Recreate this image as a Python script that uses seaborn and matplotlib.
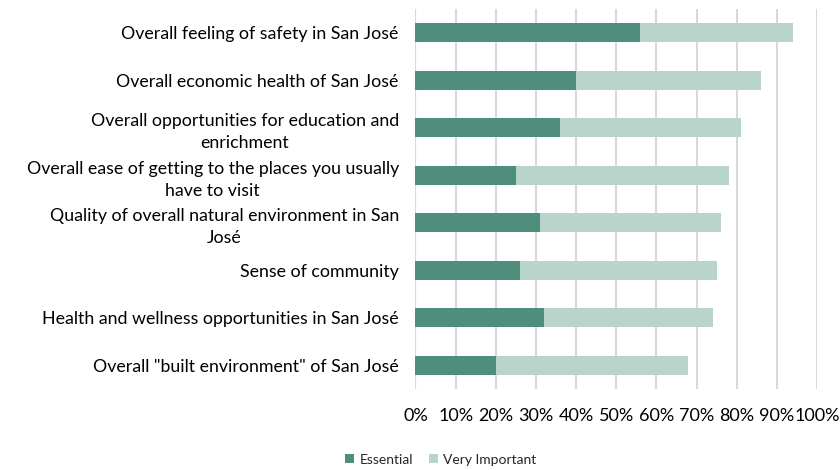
import matplotlib
matplotlib.use("Agg")
import matplotlib.pyplot as plt
from matplotlib.ticker import PercentFormatter
from matplotlib.patches import Patch
import seaborn as sns
import pandas as pd

categories = [
    "Overall feeling of safety in San José",
    "Overall economic health of San José",
    "Overall opportunities for education and\nenrichment",
    "Overall ease of getting to the places you usually\nhave to visit",
    "Quality of overall natural environment in San\nJosé",
    "Sense of community",
    "Health and wellness opportunities in San José",
    "Overall \"built environment\" of San José",
]
essential = [56, 40, 36, 25, 31, 26, 32, 20]
very_important = [38, 46, 45, 53, 45, 49, 42, 48]
series_names = ["Essential", "Very Important"]
tick_values = list(range(0, 101, 10))

dark_green = "#4F8E7D"
light_green = "#B9D4CB"
grid_grey = "#D9D9D9"

df = pd.DataFrame({
    "category": categories,
    "Essential": essential,
    "Very Important": very_important,
})
df["stack_top"] = df["Essential"] + df["Very Important"]

sns.set_theme(style="white")
plt.rcParams["font.family"] = ["Lato", "DejaVu Sans"]

fig = plt.figure(figsize=(8.4, 4.7), dpi=100)
ax = fig.add_axes([0.4946, 0.1723, 0.478, 0.8087])

# stacked horizontal bars: full stack first, essential share on top
sns.barplot(data=df, x="stack_top", y="category", color=light_green,
            width=0.4, saturation=1, orient="h", ax=ax, zorder=3,
            linewidth=0, edgecolor="none")
sns.barplot(data=df, x="Essential", y="category", color=dark_green,
            width=0.4, saturation=1, orient="h", ax=ax, zorder=4,
            linewidth=0, edgecolor="none")

ax.set_xlim(0, 100)
ax.set_xticks(tick_values)
ax.xaxis.set_major_formatter(PercentFormatter(decimals=0))
ax.xaxis.grid(True, color=grid_grey, linewidth=1.5, zorder=0)
ax.yaxis.grid(False)
ax.set_axisbelow(True)
for side in ["top", "right", "bottom", "left"]:
    ax.spines[side].set_visible(False)
ax.axvline(0, color=grid_grey, linewidth=1.5, zorder=1)

ax.set_xlabel("")
ax.set_ylabel("")
ax.tick_params(axis="x", length=0, pad=14, labelsize=13, colors="black")
ax.tick_params(axis="y", length=0, pad=12, labelsize=12.8, colors="black")
for lbl in ax.get_yticklabels():
    lbl.set_multialignment("center")
    lbl.set_linespacing(1.45)

handles = [Patch(facecolor=dark_green, edgecolor="none"),
           Patch(facecolor=light_green, edgecolor="none")]
fig.legend(handles, series_names, loc="center", bbox_to_anchor=(0.525, 0.022),
           ncol=2, frameon=False, fontsize=10, handlelength=0.6,
           handleheight=0.6, handletextpad=0.4, columnspacing=1.2)

fig.savefig("out.png", dpi=100)
